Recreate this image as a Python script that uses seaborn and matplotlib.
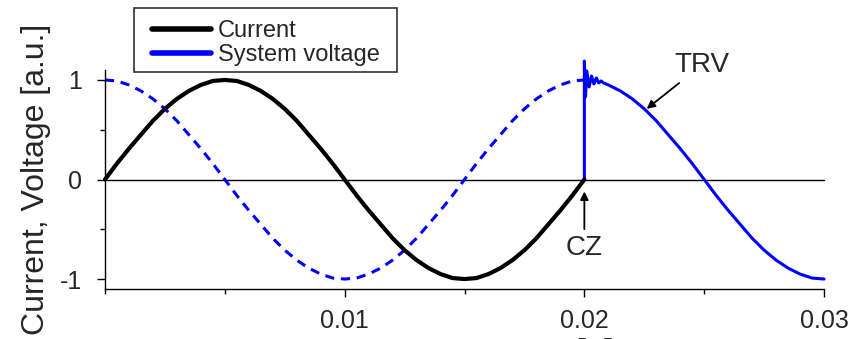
import matplotlib
matplotlib.use('Agg')
from matplotlib import pyplot as plt
from matplotlib.patches import Rectangle
from matplotlib.ticker import MultipleLocator
import pandas as pd
import seaborn as sns

# time base [s], every 0.5 ms
t_first = [0.0, 0.0005, 0.001, 0.0015, 0.002, 0.0025, 0.003, 0.0035, 0.004, 0.0045,
           0.005, 0.0055, 0.006, 0.0065, 0.007, 0.0075, 0.008, 0.0085, 0.009, 0.0095,
           0.01, 0.0105, 0.011, 0.0115, 0.012, 0.0125, 0.013, 0.0135, 0.014, 0.0145,
           0.015, 0.0155, 0.016, 0.0165, 0.017, 0.0175, 0.018, 0.0185, 0.019, 0.0195, 0.02]
current = [0.0, 0.16, 0.31, 0.45, 0.59, 0.71, 0.81, 0.89, 0.95, 0.99,
           1.0, 0.99, 0.95, 0.89, 0.81, 0.71, 0.59, 0.45, 0.31, 0.16,
           0.0, -0.16, -0.31, -0.45, -0.59, -0.71, -0.81, -0.89, -0.95, -0.99,
           -1.0, -0.99, -0.95, -0.89, -0.81, -0.71, -0.59, -0.45, -0.31, -0.16, 0.0]
voltage_before = [1.0, 0.99, 0.95, 0.89, 0.81, 0.71, 0.59, 0.45, 0.31, 0.16,
                  0.0, -0.16, -0.31, -0.45, -0.59, -0.71, -0.81, -0.89, -0.95, -0.99,
                  -1.0, -0.99, -0.95, -0.89, -0.81, -0.71, -0.59, -0.45, -0.31, -0.16,
                  0.0, 0.16, 0.31, 0.45, 0.59, 0.71, 0.81, 0.89, 0.95, 0.99, 1.0]

# voltage after current zero (TRV)
t_trv = [0.02, 0.02, 0.02005, 0.0201, 0.0202, 0.0203, 0.0204, 0.0205, 0.0206, 0.0207,
         0.0208, 0.021, 0.0215, 0.022, 0.0225, 0.023, 0.0235,
         0.024, 0.0245, 0.025, 0.0255, 0.026, 0.0265, 0.027, 0.0275, 0.028, 0.0285,
         0.029, 0.0295, 0.03]
voltage_trv = [0.0, 1.19, 0.83, 1.09, 0.93, 1.04, 0.96, 1.02, 0.97, 0.99,
               0.97, 0.95, 0.89, 0.81, 0.71, 0.59, 0.45,
               0.31, 0.16, 0.0, -0.16, -0.31, -0.45, -0.59, -0.71, -0.81, -0.89,
               -0.95, -0.99, -1.0]

x_ticks = [0.01, 0.02, 0.03]
x_labels = ['0.01', '0.02', '0.03']
y_ticks = [-1, 0, 1]
y_labels = ['-1', '0', '1']

df_i = pd.DataFrame({'t': t_first, 'v': current})
df_u = pd.DataFrame({'t': t_first, 'v': voltage_before})
df_trv = pd.DataFrame({'t': t_trv, 'v': voltage_trv})

sns.set_style('ticks')
plt.rcParams['font.family'] = ['Liberation Sans', 'DejaVu Sans']

fig = plt.figure(figsize=(8.59, 3.39), dpi=100)
ax = fig.add_axes([0.1222, 0.1475, 0.8371, 0.646])

ax.axhline(0, color='black', lw=1.0, zorder=1)
sns.lineplot(data=df_u, x='t', y='v', ax=ax, color='blue', lw=2.2, ls=(0, (3, 2.2)),
             estimator=None, sort=False)
sns.lineplot(data=df_trv, x='t', y='v', ax=ax, color='blue', lw=2.2,
             estimator=None, sort=False, label='System voltage')
sns.lineplot(data=df_i, x='t', y='v', ax=ax, color='black', lw=3.0,
             estimator=None, sort=False, label='Current')
for ln in ax.lines:
    ln.set_clip_on(False)

ax.set_xlim(0, 0.03)
ax.set_ylim(-1.1, 1.1)
ax.set_xticks(x_ticks)
ax.set_xticklabels(x_labels)
ax.set_yticks(y_ticks)
ax.set_yticklabels(y_labels)
ax.xaxis.set_minor_locator(MultipleLocator(0.005))
ax.yaxis.set_minor_locator(MultipleLocator(0.5))
ax.tick_params(which='major', direction='out', length=6, width=1, labelsize=18, color='black')
ax.tick_params(which='minor', direction='out', length=3.5, width=1, color='black')
ax.tick_params(axis='x', which='major', pad=8.5)
ax.tick_params(axis='y', which='major', pad=10.5)
sns.despine(ax=ax)
for s in ['left', 'bottom']:
    ax.spines[s].set_color('black')
    ax.spines[s].set_linewidth(1.0)

ax.set_ylabel('Current, Voltage [a.u.]', fontsize=23, labelpad=6)
# x label sits mostly below the figure edge, as in the reference
ax.set_xlabel('t [s]', fontsize=26)
ax.xaxis.set_label_coords(0.668, -0.223)

# annotations
ax.annotate('CZ', xy=(0.02, -0.12), xytext=(0.02, -0.69), fontsize=20,
            ha='center', va='center',
            arrowprops=dict(arrowstyle='-|>', color='black', lw=1.3, shrinkA=2, shrinkB=0,
                            mutation_scale=12))
ax.annotate('TRV', xy=(0.0226, 0.71), xytext=(0.0249, 1.15), fontsize=20,
            ha='center', va='center', annotation_clip=False,
            arrowprops=dict(arrowstyle='-|>', color='black', lw=1.3, shrinkA=2, shrinkB=0,
                            mutation_scale=12))

h, l = ax.get_legend_handles_labels()
order = [l.index('Current'), l.index('System voltage')]
leg = ax.legend([h[i] for i in order], [l[i] for i in order],
                loc='upper left', bbox_to_anchor=(140 / 859, 1 - 8 / 339),
                bbox_transform=fig.transFigure, borderaxespad=0, fontsize=17,
                frameon=False, handlelength=2.5, handletextpad=0.3, labelspacing=0.1,
                borderpad=0.5)
for lh in leg.get_lines():
    lh.set_linewidth(4)
# legend box drawn separately so its padding matches the reference
fig.add_artist(Rectangle((134 / 859, 1 - 72 / 339), 263 / 859, 64 / 339,
                         transform=fig.transFigure, fill=False, ec='#333333', lw=1.2))

fig.savefig('out.png', dpi=100)
